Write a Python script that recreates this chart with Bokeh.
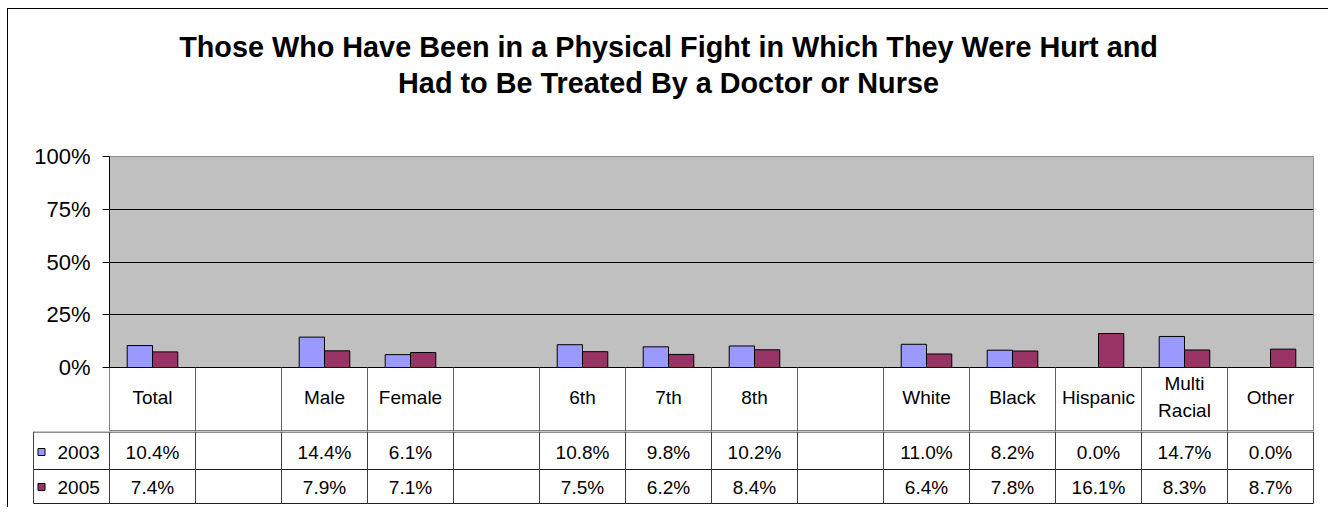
from bokeh.plotting import figure
from bokeh.layouts import column
from bokeh.models import (Range1d, FixedTicker, PrintfTickFormatter, ColumnDataSource,
                          BoxAnnotation, Plot)
from bokeh.core.properties import value
from bokeh.transform import dodge
from bokeh.embed import file_html
from bokeh.resources import INLINE

# ---------------- data ----------------
title_lines = ["Those Who Have Been in a Physical Fight in Which They Were Hurt and",
               "Had to Be Treated By a Doctor or Nurse"]
categories = ["Total", "", "Male", "Female", "", "6th", "7th", "8th", "",
              "White", "Black", "Hispanic", "Multi\nRacial", "Other"]
series_names = ["2003", "2005"]
v2003 = [10.4, None, 14.4, 6.1, None, 10.8, 9.8, 10.2, None, 11.0, 8.2, 0.0, 14.7, 0.0]
v2005 = [7.4, None, 7.9, 7.1, None, 7.5, 6.2, 8.4, None, 6.4, 7.8, 16.1, 8.3, 8.7]
y_ticks = [0, 25, 50, 75, 100]
colors = ["#9999FF", "#993366"]

FONT = "Liberation Sans"
N = len(categories)
COL = 86.0  # px per category column
PX_PER_PCT = 211.0 / 100.0
HEADER_PX = 64.0
FIG_W = 1321   # figures run to the window edge

FA = {"frame_align": False} if "frame_align" in Plot.properties() else {}

# ---------------- title figure ----------------
ft = figure(width=FIG_W, height=109, x_range=Range1d(0, FIG_W), y_range=Range1d(109, 0),
            x_axis_type=None, y_axis_type=None, toolbar_location=None,
            output_backend="svg", min_border=0, outline_line_color=None, **FA)
ft.text(x=[660, 660], y=[37.5, 73.5], text=title_lines, text_font=value(FONT),
        text_font_size="28.8px", text_font_style="bold", text_align="center",
        text_baseline="middle", text_color="black")

# ---------------- chart figure (plot + header row) ----------------
pa = figure(width=FIG_W, height=313, x_range=Range1d(0, N),
            y_range=Range1d(-HEADER_PX / PX_PER_PCT, 100),
            x_axis_type=None, toolbar_location=None, output_backend="svg",
            min_border_left=101, min_border_right=FIG_W - 101 - 1204,
            min_border_top=38, min_border_bottom=0,
            outline_line_color="#808080", background_fill_color="white", **FA)
pa.add_layout(BoxAnnotation(bottom=0, top=100, fill_color="#C0C0C0", fill_alpha=1.0,
                            line_color=None, level="image"))

ya = pa.yaxis[0]
ya.ticker = FixedTicker(ticks=y_ticks)
ya.formatter = PrintfTickFormatter(format="%d%%")
ya.bounds = (0, 100)
ya.major_tick_in = 0
ya.major_tick_out = 7
ya.minor_tick_line_color = None
ya.axis_line_color = "black"
ya.major_tick_line_color = "black"
ya.major_label_text_font = FONT
ya.major_label_text_font_size = "22px"
ya.major_label_text_color = "black"
ya.major_label_standoff = 12
pa.ygrid.ticker = FixedTicker(ticks=[0, 25, 50, 75])
pa.ygrid.grid_line_color = "black"
pa.ygrid.grid_line_width = 1

xs, t03, t05 = [], [], []
for i, (a, b) in enumerate(zip(v2003, v2005)):
    if a is None and b is None:
        continue
    xs.append(i + 0.5)
    t03.append(a)
    t05.append(b)
src = ColumnDataSource(dict(x=xs, v2003=t03, v2005=t05))
bw = 0.294
pa.vbar(x=dodge("x", -bw / 2, range=pa.x_range), top="v2003", width=bw, source=src,
        fill_color=colors[0], line_color="black", line_width=1)
pa.vbar(x=dodge("x", bw / 2, range=pa.x_range), top="v2005", width=bw, source=src,
        fill_color=colors[1], line_color="black", line_width=1)

# header row: category names and column separators
hdr_y = -29.5 / PX_PER_PCT
pa.text(x=[i + 0.5 for i in range(N)], y=[hdr_y] * N, text=categories,
        text_font=value(FONT), text_font_size="19px", text_align="center",
        text_baseline="middle", text_line_height=1.3, text_color="black")
pa.segment(x0=list(range(1, N)), x1=list(range(1, N)), y0=[-HEADER_PX / PX_PER_PCT] * (N - 1),
           y1=[0] * (N - 1), line_color="#606060", line_width=1)

# ---------------- data table figure ----------------
left_px, right_px = 31, 1315
pb = figure(width=FIG_W, height=77,
            x_range=Range1d((left_px - 109) / COL, (right_px - 109) / COL),
            y_range=Range1d(74, 0),
            x_axis_type=None, y_axis_type=None, toolbar_location=None, output_backend="svg",
            min_border_left=23, min_border_right=FIG_W - 23 - (right_px - left_px),
            min_border_top=0, min_border_bottom=3,
            outline_line_color=None, **FA)
leg_left = (33 - 109) / COL
row_lines = [0.5, 38, 72]
pb.segment(x0=[leg_left] * 3, x1=[N] * 3, y0=row_lines, y1=row_lines,
           line_color="#202020", line_width=1)
vx = [leg_left] + list(range(0, N + 1))
pb.segment(x0=vx, x1=vx, y0=[0] * len(vx), y1=[72] * len(vx),
           line_color="#404040", line_width=1)

row_y = [20.5, 55.5]
pb.scatter(x=[(41 - 109) / COL] * 2, y=row_y, marker="square", size=7,
           fill_color=colors, line_color="black", line_width=1)
pb.text(x=[(57 - 109) / COL] * 2, y=row_y, text=series_names, text_font=value(FONT),
        text_font_size="19px", text_align="left", text_baseline="middle", text_color="black")

for vals, yy in zip([v2003, v2005], row_y):
    tx, tt = [], []
    for i, v in enumerate(vals):
        if v is None:
            continue
        tx.append(i + 0.5)
        tt.append(f"{v:.1f}%")
    pb.text(x=tx, y=[yy] * len(tx), text=tt, text_font=value(FONT), text_font_size="19px",
            text_align="center", text_baseline="middle", text_color="black")

layout = column(ft, pa, pb, spacing=0, margin=(9, 0, 0, 8), width=FIG_W,
                styles={"box-shadow": "-1px -1px 0px 0px black", "overflow": "hidden"})

open("out.html", "w").write(file_html(layout, INLINE))
